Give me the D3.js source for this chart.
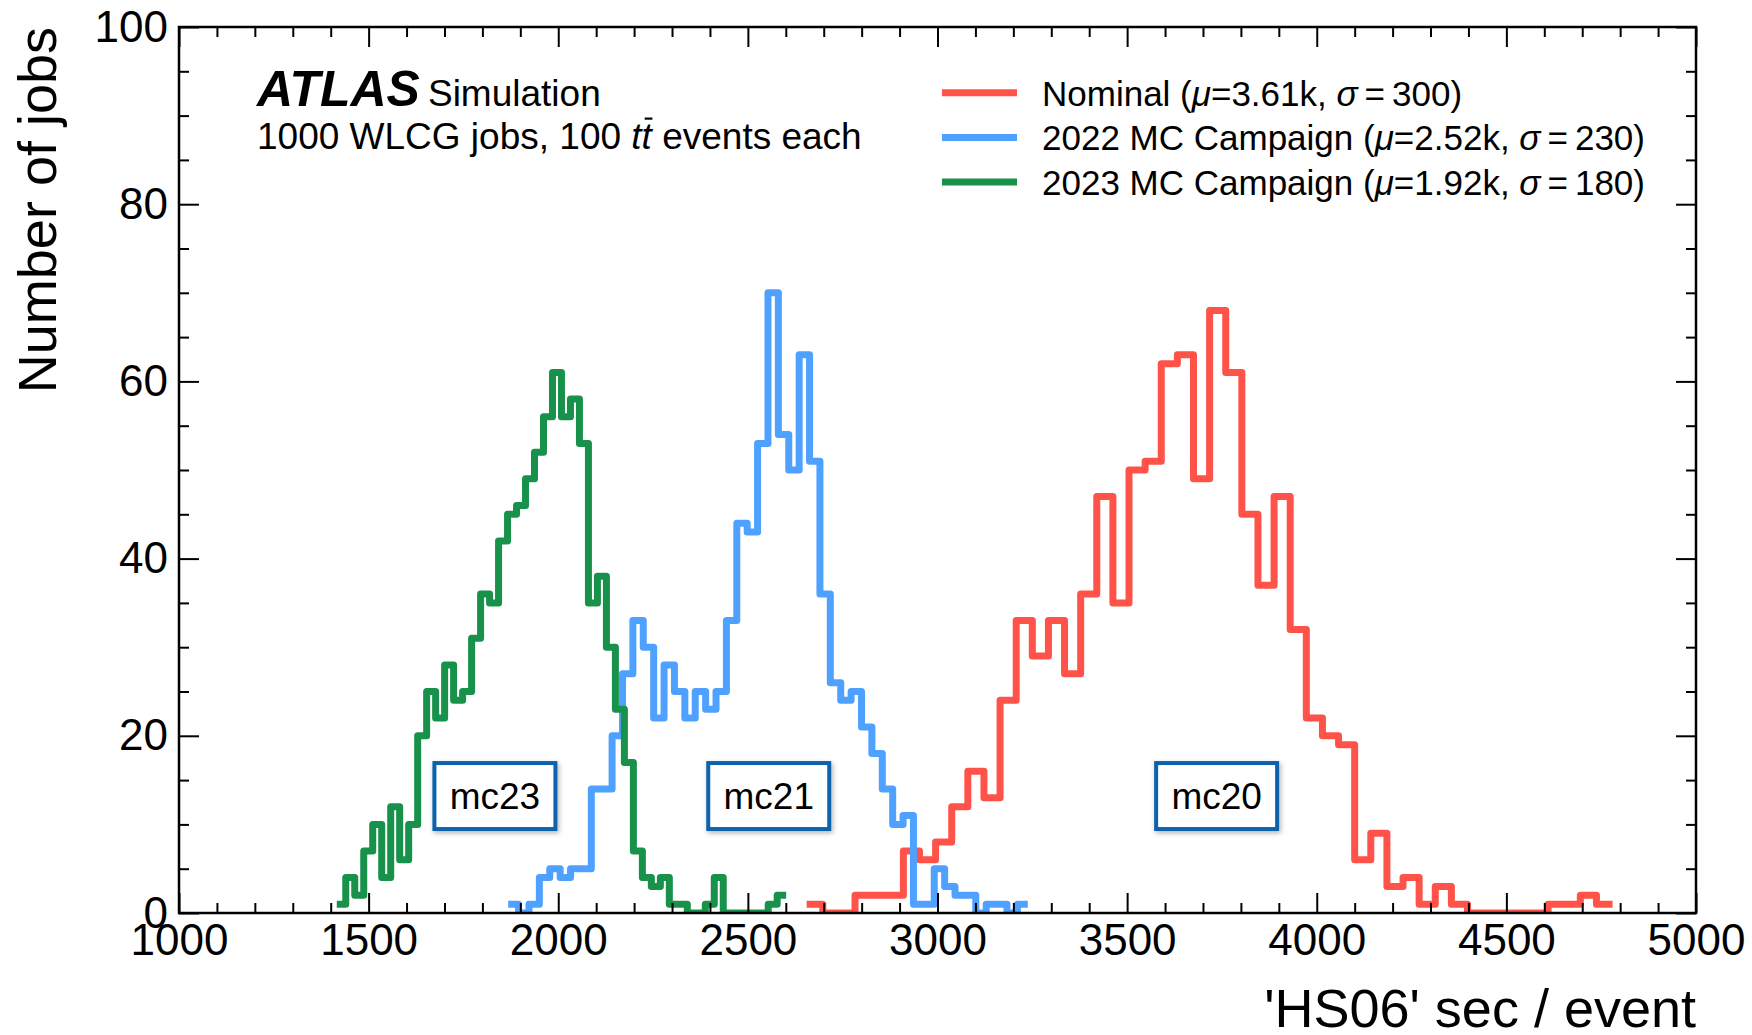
<!DOCTYPE html>
<html>
<head>
<meta charset="utf-8">
<script src="https://cdn.jsdelivr.net/npm/d3@7"></script>
<style>
  html, body { margin: 0; padding: 0; background: #ffffff; }
  svg { display: block; font-family: "Liberation Sans", Arial, Helvetica, sans-serif; }
</style>
</head>
<body>
<svg id="chart" width="1752" height="1035"></svg>
<script>
// ---- data -------------------------------------------------------------
// Axis ranges and tick labels
const xDomain = [1000, 5000];
const yDomain = [0, 100];
const xMajorTicks = [1000, 1500, 2000, 2500, 3000, 3500, 4000, 4500, 5000];
const yMajorTicks = [0, 20, 40, 60, 80, 100];

// Series (legend order) and their summary statistics
const seriesNames = ["Nominal", "2022 MC Campaign", "2023 MC Campaign"];
const seriesMu = ["3.61k", "2.52k", "1.92k"];
const seriesSigma = ["300", "230", "180"];

// Each histogram: 50 equal-width bins between its lower and upper edge
const nominalRange = [2655, 4780];
const nominalCounts = [1, 0, 0, 2, 2, 2, 7, 6, 8, 12,
                       16, 13, 24, 33, 29, 33, 27, 36, 47, 35,
                       50, 51, 62, 63, 49, 68, 61, 45, 37, 47,
                       32, 22, 20, 19, 6, 9, 3, 4, 1, 3,
                       1, 0, 0, 0, 0, 0, 1, 1, 2, 1];

const mc22Range = [1868, 3238];
const mc22Counts = [1, 0, 1, 4, 5, 4, 5, 5, 14, 14,
                    20, 27, 33, 30, 22, 28, 25, 22, 25, 23,
                    25, 33, 44, 43, 53, 70, 54, 50, 63, 51,
                    36, 26, 24, 25, 21, 18, 14, 10, 11, 1,
                    1, 5, 3, 2, 2, 0, 1, 1, 0, 1];

const mc23Range = [1416, 2601];
const mc23Counts = [1, 4, 2, 7, 10, 4, 12, 6, 10, 20,
                    25, 22, 28, 24, 25, 31, 36, 35, 42, 45,
                    46, 49, 52, 56, 61, 56, 58, 53, 35, 38,
                    30, 23, 17, 7, 4, 3, 4, 1, 1, 0,
                    0, 1, 4, 0, 0, 0, 0, 0, 1, 2];

// Campaign tags placed under each distribution (data coordinates)
const campaignTags = ["mc23", "mc21", "mc20"];
const tagCenterX = [1833, 2555, 3736];
const tagCenterY = 13.2;

// ---- layout & style ---------------------------------------------------
const W = 1752, H = 1035;
const plot = { left: 179, right: 1696, top: 27, bottom: 913 };
const colors = ["#ff5349", "#4fa1ff", "#18924b"];
const majorLen = 20, minorLen = 10;
const tickFont = 44, labelFont = 54, textFont = 37, legendFont = 35;

const svg = d3.select("#chart");

const x = d3.scaleLinear().domain(xDomain).range([plot.left, plot.right]);
const y = d3.scaleLinear().domain(yDomain).range([plot.bottom, plot.top]);

const defs = svg.append("defs");
defs.append("clipPath").attr("id", "plot-clip")
  .append("rect")
  .attr("x", plot.left).attr("y", plot.top)
  .attr("width", plot.right - plot.left)
  .attr("height", plot.bottom - plot.top);

const shadow = defs.append("filter").attr("id", "tag-shadow")
  .attr("x", "-20%").attr("y", "-20%").attr("width", "140%").attr("height", "150%");
shadow.append("feDropShadow")
  .attr("dx", 1.5).attr("dy", 2).attr("stdDeviation", 2.5)
  .attr("flood-color", "#000").attr("flood-opacity", 0.3);

// ---- histograms -------------------------------------------------------
function stepPoints(range, counts) {
  const w = (range[1] - range[0]) / counts.length;
  const pts = counts.map((c, i) => [range[0] + i * w, c]);
  pts.push([range[1], counts[counts.length - 1]]);
  return pts;
}

const stepLine = d3.line()
  .x(d => x(d[0]))
  .y(d => y(d[1]))
  .curve(d3.curveStepAfter);

const histograms = [
  { range: nominalRange, counts: nominalCounts },
  { range: mc22Range, counts: mc22Counts },
  { range: mc23Range, counts: mc23Counts }
];

const histLayer = svg.append("g").attr("clip-path", "url(#plot-clip)");
histograms.forEach((h, i) => {
  histLayer.append("path")
    .attr("d", stepLine(stepPoints(h.range, h.counts)))
    .attr("fill", "none")
    .attr("stroke", colors[i])
    .attr("stroke-width", 7)
    .attr("stroke-linejoin", "round")
    .attr("stroke-linecap", "butt");
});

// ---- campaign tags ----------------------------------------------------
const tagW = 121, tagH = 66;
campaignTags.forEach((t, i) => {
  const cx = x(tagCenterX[i]), cy = y(tagCenterY);
  const g = svg.append("g");
  g.append("rect")
    .attr("x", cx - tagW / 2).attr("y", cy - tagH / 2)
    .attr("width", tagW).attr("height", tagH)
    .attr("fill", "#ffffff")
    .attr("stroke", "#0b63ab")
    .attr("stroke-width", 4)
    .attr("filter", "url(#tag-shadow)");
  g.append("text")
    .attr("x", cx).attr("y", cy + 13)
    .attr("text-anchor", "middle")
    .attr("font-size", textFont)
    .attr("fill", "#000")
    .text(t);
});

// ---- axes -------------------------------------------------------------
const xMinor = d3.range(1000, 5001, 100).filter(v => v % 500 !== 0);
const yMinor = d3.range(0, 101, 5).filter(v => v % 20 !== 0);

function styleAxis(g) {
  g.attr("font-family", null).attr("font-size", null);
  g.select(".domain").remove();
  g.selectAll(".tick line").attr("stroke", "#000").attr("stroke-width", 2);
  g.selectAll(".tick text").attr("font-size", tickFont).attr("fill", "#000");
}

// bottom
svg.append("g").attr("transform", `translate(0,${plot.bottom})`)
  .call(d3.axisBottom(x).tickValues(xMajorTicks).tickSize(-majorLen)
    .tickPadding(11).tickFormat(d3.format("d")))
  .call(styleAxis);
svg.append("g").attr("transform", `translate(0,${plot.bottom})`)
  .call(d3.axisBottom(x).tickValues(xMinor).tickSize(-minorLen).tickFormat(""))
  .call(styleAxis);
// top
svg.append("g").attr("transform", `translate(0,${plot.top})`)
  .call(d3.axisTop(x).tickValues(xMajorTicks).tickSize(-majorLen).tickFormat(""))
  .call(styleAxis);
svg.append("g").attr("transform", `translate(0,${plot.top})`)
  .call(d3.axisTop(x).tickValues(xMinor).tickSize(-minorLen).tickFormat(""))
  .call(styleAxis);
// left
svg.append("g").attr("transform", `translate(${plot.left},0)`)
  .call(d3.axisLeft(y).tickValues(yMajorTicks).tickSize(-majorLen)
    .tickPadding(11).tickFormat(d3.format("d")))
  .call(styleAxis);
svg.append("g").attr("transform", `translate(${plot.left},0)`)
  .call(d3.axisLeft(y).tickValues(yMinor).tickSize(-minorLen).tickFormat(""))
  .call(styleAxis);
// right
svg.append("g").attr("transform", `translate(${plot.right},0)`)
  .call(d3.axisRight(y).tickValues(yMajorTicks).tickSize(-majorLen).tickFormat(""))
  .call(styleAxis);
svg.append("g").attr("transform", `translate(${plot.right},0)`)
  .call(d3.axisRight(y).tickValues(yMinor).tickSize(-minorLen).tickFormat(""))
  .call(styleAxis);

// frame
svg.append("rect")
  .attr("x", plot.left).attr("y", plot.top)
  .attr("width", plot.right - plot.left).attr("height", plot.bottom - plot.top)
  .attr("fill", "none").attr("stroke", "#000").attr("stroke-width", 2.5);

// axis titles
svg.append("text")
  .attr("x", plot.right).attr("y", 1027)
  .attr("text-anchor", "end")
  .attr("font-size", labelFont)
  .attr("fill", "#000")
  .text("'HS06' sec / event");

svg.append("text")
  .attr("transform", `translate(56,${plot.top}) rotate(-90)`)
  .attr("text-anchor", "end")
  .attr("font-size", labelFont)
  .attr("fill", "#000")
  .text("Number of jobs");

// ---- experiment label -------------------------------------------------
const atlas = svg.append("text")
  .attr("x", 257).attr("y", 106)
  .attr("fill", "#000");
atlas.append("tspan")
  .attr("font-size", 50).attr("font-weight", "bold").attr("font-style", "italic")
  .text("ATLAS");
atlas.append("tspan")
  .attr("dx", 8)
  .attr("font-size", textFont)
  .text("Simulation");

const info = svg.append("text")
  .attr("x", 257).attr("y", 148.6)
  .attr("font-size", textFont)
  .attr("fill", "#000");
info.append("tspan").text("1000 WLCG jobs, 100 ");
info.append("tspan").attr("font-style", "italic").text("tt");
info.append("tspan").text(" events each");

// bar over the second t of "tt"
{
  const node = info.node();
  const full = node.textContent;
  const idx = full.indexOf("tt") + 1;
  const ext = node.getExtentOfChar(idx);
  svg.append("line")
    .attr("x1", ext.x + ext.width * 0.30).attr("x2", ext.x + ext.width * 1.05)
    .attr("y1", ext.y + 3).attr("y2", ext.y + 3)
    .attr("stroke", "#000").attr("stroke-width", 2.2);
}

// ---- legend -----------------------------------------------------------
const legendRowY = [92.7, 137.4, 182.1];
seriesNames.forEach((name, i) => {
  const ly = legendRowY[i];
  svg.append("line")
    .attr("x1", 942).attr("x2", 1017)
    .attr("y1", ly).attr("y2", ly)
    .attr("stroke", colors[i]).attr("stroke-width", 7);
  const t = svg.append("text")
    .attr("x", 1042).attr("y", ly + 13)
    .attr("font-size", legendFont)
    .attr("fill", "#000");
  t.append("tspan").text(name + " (");
  t.append("tspan").attr("font-style", "italic").text("\u03bc");
  t.append("tspan").text("=" + seriesMu[i] + ", ");
  t.append("tspan").attr("font-style", "italic").text("\u03c3");
  t.append("tspan").text("\u2009=\u2009" + seriesSigma[i] + ")");
});
</script>
</body>
</html>
